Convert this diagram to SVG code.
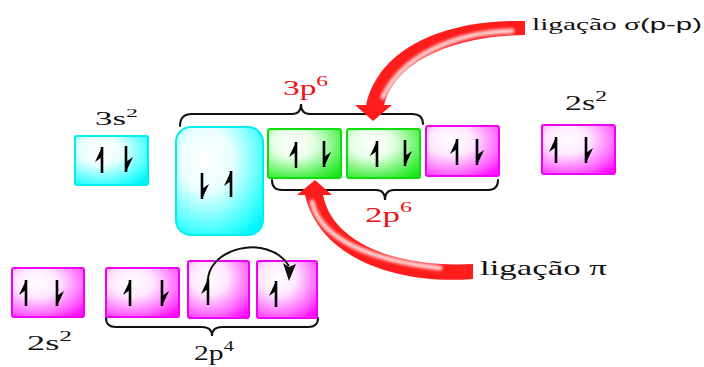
<svg xmlns="http://www.w3.org/2000/svg" xmlns:xlink="http://www.w3.org/1999/xlink" width="704" height="367" viewBox="0 0 704 367">
<style>
.t{font-family:"Liberation Serif","Times New Roman",serif;fill:#111}
.r{fill:#ee1111}
.brace{fill:none;stroke:#111;stroke-width:2;stroke-linecap:round}
.cy{fill:url(#gc);stroke:#00eef2;stroke-width:2}
.mg{fill:url(#gm);stroke:#f000f0;stroke-width:2}
.gr{fill:url(#gg);stroke:#10dd10;stroke-width:2}
.red{fill:#ff1c1c}
.hl{fill:none;stroke:#fff;stroke-width:5;stroke-linecap:round;opacity:0.8;filter:url(#blur)}
</style>
<defs>
<radialGradient id="gc" cx="0.35" cy="0.3" r="0.85"><stop offset="0" stop-color="#fff"/><stop offset="0.35" stop-color="#eaffff"/><stop offset="0.8" stop-color="#40ffff"/><stop offset="1" stop-color="#00f4f8"/></radialGradient>
<radialGradient id="gm" cx="0.35" cy="0.3" r="0.85"><stop offset="0" stop-color="#fff"/><stop offset="0.35" stop-color="#ffe8ff"/><stop offset="0.8" stop-color="#ff5cff"/><stop offset="1" stop-color="#ff10ff"/></radialGradient>
<radialGradient id="gg" cx="0.35" cy="0.3" r="0.85"><stop offset="0" stop-color="#fff"/><stop offset="0.35" stop-color="#e6ffe6"/><stop offset="0.8" stop-color="#50f050"/><stop offset="1" stop-color="#1ee61e"/></radialGradient>
<filter id="blur" x="-20%" y="-20%" width="140%" height="140%"><feGaussianBlur stdDeviation="1.8"/></filter>
<g id="up"><path d="M0,-13 V13" stroke="#000" stroke-width="2.6"/><path d="M0,-13 L-7,2 L0,-3 Z" fill="#000"/></g>
<g id="dn"><path d="M0,-13 V13" stroke="#000" stroke-width="2.6"/><path d="M0,13 L7,-2 L0,3 Z" fill="#000"/></g>
</defs>
<rect width="704" height="367" fill="#fff"/>

<g id="s3">
<rect class="cy" x="75" y="136" width="73" height="49" rx="2"/>
<use xlink:href="#up" x="102" y="160"/>
<use xlink:href="#dn" x="126" y="159"/>
</g>
<g id="hybrid">
<rect class="cy" x="176" y="127" width="87" height="108" rx="15"/>
<use xlink:href="#dn" x="202" y="186"/>
<use xlink:href="#up" x="231" y="184"/>
</g>
<g id="p3a">
<rect class="gr" x="268" y="129" width="73" height="49" rx="2"/>
<use xlink:href="#up" x="296" y="155"/>
<use xlink:href="#dn" x="324" y="154"/>
</g>
<g id="p3b">
<rect class="gr" x="347" y="129" width="73" height="49" rx="2"/>
<use xlink:href="#up" x="377" y="154"/>
<use xlink:href="#dn" x="405" y="153"/>
</g>
<g id="p2c">
<rect class="mg" x="426" y="126" width="73" height="50" rx="2"/>
<use xlink:href="#up" x="457" y="152"/>
<use xlink:href="#dn" x="477" y="152"/>
</g>
<g id="s2r">
<rect class="mg" x="542" y="125" width="73" height="49" rx="2"/>
<use xlink:href="#up" x="556" y="150"/>
<use xlink:href="#dn" x="586" y="150"/>
</g>
<g id="s2b">
<rect class="mg" x="12" y="268" width="72" height="49" rx="2"/>
<use xlink:href="#up" x="26" y="293"/>
<use xlink:href="#dn" x="57" y="293"/>
</g>
<g id="p4a">
<rect class="mg" x="106" y="268" width="73" height="49" rx="2"/>
<use xlink:href="#up" x="130" y="293"/>
<use xlink:href="#dn" x="162" y="293"/>
</g>
<g id="p4b">
<rect class="mg" x="188" y="261" width="61" height="57" rx="2"/>
<use xlink:href="#up" x="208" y="292"/>
</g>
<g id="p4c">
<rect class="mg" x="257" y="261" width="60" height="57" rx="2"/>
<use xlink:href="#up" x="276" y="294"/>
</g>

<g id="braces">
<path class="brace" d="M180,126 Q180,114 192,114 L292,114 Q301,114 301,104 Q301,114 310,114 L412,114 Q423,114 423,124"/>
<path class="brace" d="M272,180 Q272,190 282,190 L376,190 Q385,190 385,200 Q385,190 394,190 L488,190 Q498,190 498,180"/>
<path class="brace" d="M106,318 Q106,327 116,327 L202,327 Q212,327 212,336 Q212,327 222,327 L308,327 Q318,327 318,318"/>
</g>

<g id="connectors">
<g id="sigma-arrow">
<path class="red" d="M525,21 C445,19 378,48 366,106 L384,106 C394,62 452,36 525,35 Z"/>
<path class="red" d="M355,105 L392,105 L373,121 Z"/>
<path class="hl" d="M512,31 C455,32 402,56 383,97"/>
</g>
<g id="pi-arrow">
<path class="red" d="M473,279 C400,285 320,260 305,195 L323,195 C333,245 400,268 473,264 Z"/>
<path class="red" d="M297,195 L332,195 L315,180 Z"/>
<path class="hl" d="M312,202 C320,238 368,260 440,268"/>
</g>
<g id="jump">
<path d="M208,285 C204,248 268,232 289,266" fill="none" stroke="#111" stroke-width="2"/>
<path d="M289,281 L283,263 L289,267 L296,264 Z" fill="#111"/>
</g>
</g>

<g id="labels">
<text class="t" x="95" y="125" font-size="19" textLength="43" lengthAdjust="spacingAndGlyphs">3s<tspan font-size="13" dy="-8">2</tspan></text>
<text class="t r" x="283" y="95" font-size="20" textLength="45" lengthAdjust="spacingAndGlyphs">3p<tspan font-size="14" dy="-9">6</tspan></text>
<text class="t" x="565" y="110" font-size="20" textLength="42" lengthAdjust="spacingAndGlyphs">2s<tspan font-size="14" dy="-9">2</tspan></text>
<text class="t r" x="365" y="222" font-size="22" textLength="47" lengthAdjust="spacingAndGlyphs">2p<tspan font-size="15" dy="-10">6</tspan></text>
<text class="t" x="27" y="350" font-size="20" textLength="45" lengthAdjust="spacingAndGlyphs">2s<tspan font-size="14" dy="-9">2</tspan></text>
<text class="t" x="194" y="360" font-size="20" textLength="40" lengthAdjust="spacingAndGlyphs">2p<tspan font-size="14" dy="-9">4</tspan></text>
<text class="t" x="532" y="30" font-size="17" textLength="170" lengthAdjust="spacingAndGlyphs">ligação σ<tspan font-family="Liberation Sans, Arial, sans-serif">(p-p)</tspan></text>
<text class="t" x="480" y="275" font-size="22" textLength="127" lengthAdjust="spacingAndGlyphs">ligação π</text>
</g>
</svg>
